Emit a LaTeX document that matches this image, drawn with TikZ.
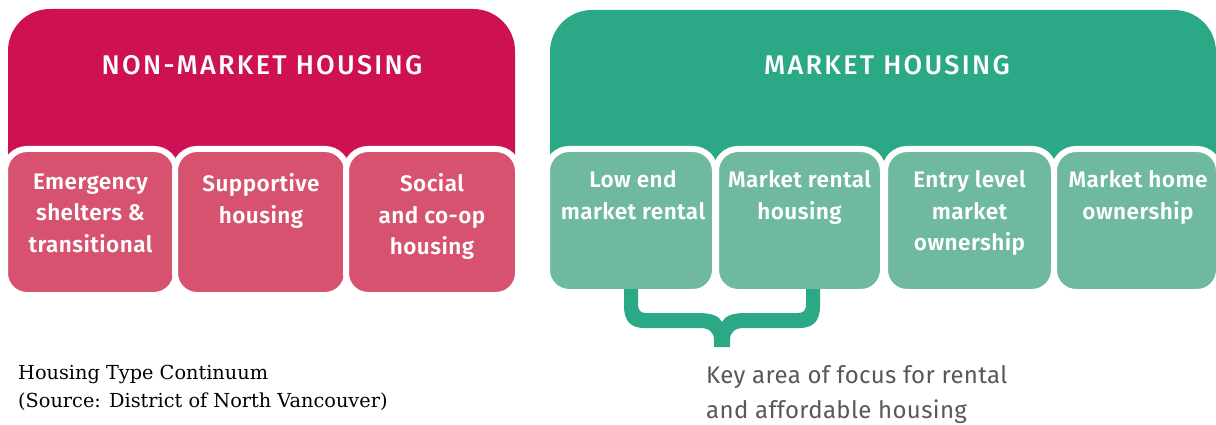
\documentclass[tikz,border=0pt]{standalone}
\usepackage{fontspec}
\setmainfont{Fira Sans}[LetterSpace=1.5]
\newfontfamily\headfont{Fira Sans Medium}[LetterSpace=8.5]
\newfontfamily\boxfont{Fira Sans SemiBold}[LetterSpace=2]
\newfontfamily\capfont{DejaVu Serif}
\usetikzlibrary{positioning}

\definecolor{nmkRed}{RGB}{206,17,83}
\definecolor{nmkPink}{RGB}{214,82,110}
\definecolor{mkGreen}{RGB}{43,169,135}
\definecolor{mkLight}{RGB}{111,186,158}
\definecolor{keyGray}{RGB}{88,88,88}

\begin{document}
\begin{tikzpicture}[x=1pt, y=-1pt,
    headbox/.style={rounded corners=42pt, inner sep=0pt, outer sep=0pt, minimum height=241pt},
    catbox/.style={draw=white, line width=6pt, rounded corners=22pt, inner sep=0pt, outer sep=0pt, minimum height=#1},
    headtext/.style={text=white, inner sep=0pt, font=\headfont\fontsize{27}{32}\selectfont},
    boxtext/.style={text=white, align=center, inner sep=0pt, anchor=north, font=\boxfont\fontsize{22.5}{31.5}\selectfont,
        execute at begin node=\vphantom{Ehl}},
    keytext/.style={text=keyGray, align=left, inner sep=0pt, anchor=north west, font=\fontsize{24}{35}\selectfont},
    captext/.style={text=black, align=left, inner sep=0pt, anchor=north west, font=\capfont\fontsize{19.3}{28}\selectfont}]
    \useasboundingbox (0,0) rectangle (1216,425);

    % Non-market housing
    \node[headbox, fill=nmkRed, minimum width=507pt] (nonmkt) at (261.5,129.5) {};
    \node[headtext, anchor=base] (nonmktT) at (262,75) {NON-MARKET HOUSING};

    \node[catbox=146pt, fill=nmkPink, minimum width=171pt] (emerg) at (90.5,222) {};
    \node[catbox=146pt, fill=nmkPink, minimum width=172pt] (support) at (261,222) {};
    \node[catbox=146pt, fill=nmkPink, minimum width=172pt] (social) at (432,222) {};
    \node[boxtext] (emergT) at (90.5,173.5) {Emergency\\shelters \&\\transitional};
    \node[boxtext] (supportT) at (261,173.5) {Supportive\\housing};
    \node[boxtext] (socialT) at (432,173.5) {Social\\and co-op\\housing};

    % Market housing
    \node[headbox, fill=mkGreen, minimum width=666pt] (mkt) at (883,130.5) {};
    \node[headtext, anchor=base] (mktT) at (887,75) {MARKET HOUSING};

    \node[catbox=143pt, fill=mkLight, minimum width=168pt] (lowend) at (631,220.5) {};
    \node[catbox=143pt, fill=mkLight, minimum width=167pt] (rental) at (799.5,220.5) {};
    \node[catbox=143pt, fill=mkLight, minimum width=169pt] (entry) at (969.5,220.5) {};
    \node[catbox=143pt, fill=mkLight, minimum width=165pt] (homeown) at (1136.5,220.5) {};
    \node[boxtext] (lowendT) at (633,170.5) {Low end\\market rental};
    \node[boxtext] (rentalT) at (799.5,170.5) {Market rental\\housing};
    \node[boxtext] (entryT) at (969.5,170.5) {Entry level\\market\\ownership};
    \node[boxtext] (homeownT) at (1138,170.5) {Market home\\ownership};

    % Brace under the two rental boxes
    \fill[mkGreen] (624,289) -- (624,306) .. controls (624,320) and (630,328) .. (644,328)
        -- (700,328) .. controls (709,328) and (714,332) .. (714,340) -- (714,347)
        -- (730,347) -- (730,340) .. controls (730,332) and (735,328) .. (744,328)
        -- (800,328) .. controls (814,328) and (820,320) .. (820,306) -- (820,289)
        -- (806,289) -- (806,304) .. controls (806,310) and (804,313) .. (798,313)
        -- (746,313) .. controls (732,313) and (725,316) .. (722,322)
        .. controls (719,316) and (712,313) .. (698,313)
        -- (646,313) .. controls (640,313) and (638,310) .. (638,304) -- (638,289) -- cycle;

    % Texts below
    \node[keytext] (keyarea) at (706,365) {Key area of focus for rental\\and affordable housing};
    \node[captext] (caption) at (18,364.5) {Housing Type Continuum\\(Source: District of North Vancouver)};
\end{tikzpicture}
\end{document}
